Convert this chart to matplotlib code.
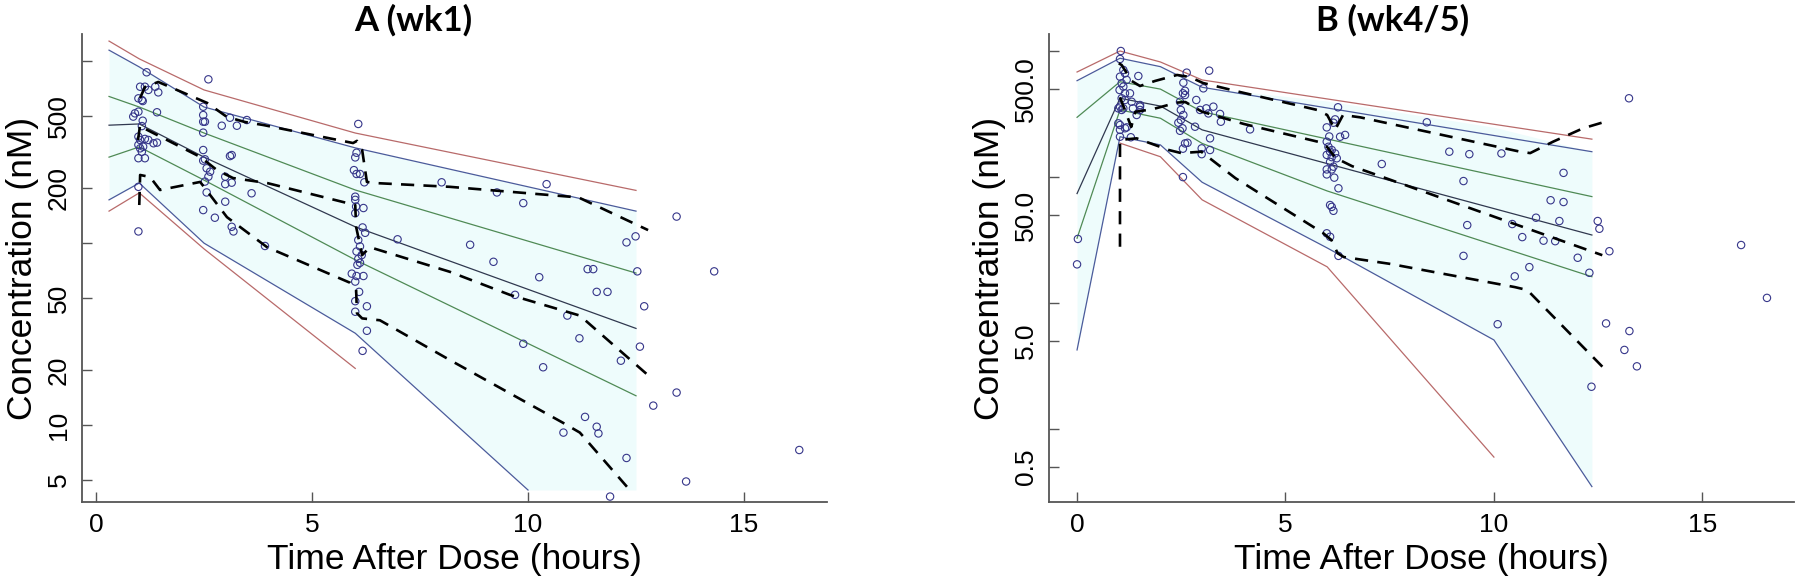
import matplotlib
matplotlib.use('Agg')
import matplotlib.pyplot as plt
import numpy as np

plt.rcParams['font.family'] = ['Liberation Sans', 'DejaVu Sans']

# ── 1. data: panel A (wk1) ───────────────────────────────────────────────────
a_bins = [0.3, 1.0, 2.5, 6.0, 12.5]
a_red_hi = [1290, 1030, 695, 403, 195]
a_blue_hi = [1150, 930, 560, 334, 150]
a_green_hi = [640, 560, 403, 196, 68.5]
a_median = [445, 452, 297, 123, 34]
a_green_lo = [297, 338, 222, 81, 14.5]
a_blue_lo_t = [0.3, 1.0, 2.5, 6.0, 10.0]
a_blue_lo = [173, 214, 100, 32, 4.4]
a_red_lo_t = [0.3, 1.0, 2.5, 6.0]
a_red_lo = [150, 189, 93, 20.5]
a_shade_t = [0.3, 1.0, 2.5, 6.0, 10.0, 12.5]
a_shade_hi = [1150, 930, 560, 334, 204, 150]
a_shade_lo = [173, 214, 100, 32, 4.4, 4.4]

a_p95_t = [1.02, 1.13, 1.44, 2.57, 3.03, 3.45, 3.87, 5.95, 6.04, 6.16, 6.27, 6.46, 8.19, 10.97, 11.2, 12.78]
a_p95 = [628, 721, 769, 590, 494, 463, 446, 355, 365, 325, 217, 214, 204, 180, 177, 118]
a_p50_t = [0.97, 1.02, 1.09, 2.41, 2.8, 3.17, 3.96, 6.0, 6.02, 6.16, 6.34, 8.19, 9.58, 11.2, 12.78]
a_p50 = [369, 446, 430, 298, 252, 228, 214, 162, 123, 86, 95, 69.6, 52, 40, 18.8]
a_p05_t = [1.0, 1.02, 1.25, 1.48, 2.41, 3.03, 3.96, 5.88, 6.02, 6.04, 6.16, 6.57, 8.19, 10.81, 11.2, 12.43]
a_p05 = [162, 237, 231, 196, 217, 139, 95, 60.6, 55.6, 41.2, 38.6, 37.7, 22.8, 10.3, 9.1, 4.2]

a_obs_t = [1.17, 2.60, 1.02, 1.13, 1.37, 1.21, 1.44, 0.98, 1.08, 1.06, 1.41, 0.90, 0.98, 0.86, 1.08, 1.06,
           2.48, 2.48, 2.52, 2.48, 2.48, 2.91, 3.10, 3.26, 3.49, 0.98, 1.02, 1.13, 1.21, 1.33, 1.41, 0.98,
           1.02, 1.09, 1.06, 0.98, 1.13, 2.48, 2.52, 2.48, 2.56, 2.64, 2.60, 2.52, 3.10, 3.14, 2.99, 3.14,
           2.99, 3.60, 0.98, 2.56, 2.99, 2.48, 2.75, 3.14, 3.18, 0.98, 3.91,
           6.07, 6.03, 6.0, 5.97, 6.03, 6.11, 6.21, 8.0, 6.0, 6.0, 6.02, 6.19, 6.0, 6.17, 6.23, 6.98, 8.66,
           6.07, 6.11, 6.03, 6.15, 6.07, 6.11, 6.05, 5.92, 6.03, 6.19, 6.0, 6.09, 6.0, 6.27, 6.0, 6.27, 6.17,
           10.43, 9.28, 9.89, 13.44, 12.49, 12.28, 9.2, 11.38, 11.51, 12.53, 14.31, 10.26, 11.59, 11.84, 9.7,
           12.69, 10.91, 9.89, 11.19, 12.59, 12.15, 10.35, 13.44, 12.9, 11.32, 11.59, 11.63, 10.82, 12.28,
           16.28, 13.66, 11.9]
a_obs_c = [869, 795, 724, 724, 724, 695, 674, 625, 604, 612, 524, 517, 528, 496, 471, 440,
           562, 506, 465, 465, 405, 442, 489, 442, 475, 385, 369, 374, 369, 354, 357, 347,
           332, 339, 318, 293, 293, 325, 289, 284, 258, 247, 232, 218, 301, 305, 232, 215,
           211, 188, 204, 190, 169, 152, 138, 123, 116, 116, 96.5,
           452, 314, 296, 252, 240, 240, 216, 216, 180, 173, 159, 156, 146, 122, 114, 105, 98,
           104, 96, 90, 86, 82, 78, 76, 68, 66, 66, 61.5, 54, 48, 45, 42, 33, 25.6,
           211, 190, 166, 140, 109, 101, 79, 72, 72, 70, 70, 65, 54, 54, 52,
           45, 40, 28, 30, 27, 22.6, 20.8, 15.1, 12.8, 11.1, 9.8, 9.0, 9.1, 6.6,
           7.3, 4.9, 4.05]

# ── 2. data: panel B (wk4/5) ─────────────────────────────────────────────────
b_bins = [0.0, 1.03, 2.0, 3.0, 12.35]
b_red_hi = [682, 1001, 819, 590, 200]
b_blue_hi = [582, 877, 752, 516, 159]
b_green_hi = [298, 571, 499, 330, 70]
b_median = [74, 422, 366, 237, 34.7]
b_green_lo_t = [0.0, 1.03, 2.0, 3.0, 6.0, 12.35]
b_green_lo = [32.7, 341, 293, 185, 77.6, 16.2]
b_blue_lo_t = [0.0, 1.03, 2.0, 3.0, 6.0, 10.0, 12.35]
b_blue_lo = [4.25, 209, 180, 91, 27.4, 5.1, 0.35]
b_red_lo_t = [1.03, 2.0, 3.0, 6.0, 10.0]
b_red_lo = [186, 145, 66, 19.4, 0.6]

b_p95_t = [1.0, 1.07, 1.31, 1.51, 1.87, 2.4, 2.71, 3.02, 3.91, 5.76, 6.0, 6.19, 6.38, 6.79, 10.63, 10.87, 11.42, 12.14, 12.67]
b_p95 = [800, 775, 579, 528, 579, 646, 622, 558, 473, 341, 311, 237, 311, 298, 159, 155, 191, 244, 275]
b_p50_t = [1.03, 1.3, 1.4, 1.8, 2.4, 2.6, 3.0, 4.0, 5.8, 6.0, 6.2, 6.6, 12.6]
b_p50 = [430, 250, 330, 345, 390, 394, 330, 264, 190, 173, 142, 122, 24]
b_p05_t = [1.03, 1.03, 1.43, 2.2, 2.5, 2.98, 3.8, 5.9, 6.1, 6.25, 6.4, 7.5, 10.5, 10.8, 12.7]
b_p05 = [28, 197, 203, 164, 155, 159, 98, 36, 31.7, 24.9, 23.2, 20.5, 13.4, 12.7, 2.9]

b_obs_t = [0.02, 0.0,
           1.05, 1.03, 1.11, 1.15, 1.03, 1.19, 1.07, 1.11, 1.02, 1.15, 1.27, 1.07, 1.15, 1.03, 1.11, 0.99,
           1.07, 1.31, 1.51, 1.51, 0.99, 1.19, 1.03, 1.29, 1.47, 1.34, 1.51, 1.43, 1.03, 1.15, 1.03,
           2.63, 3.17, 3.03, 2.55, 2.59, 2.54, 2.86, 3.10, 3.15, 3.43, 3.45, 2.49, 2.55, 2.49, 2.43, 2.53,
           2.47, 2.83, 3.19, 2.65, 2.59, 2.54, 2.99, 3.19, 2.99, 4.15, 2.54, 2.59, 2.47, 2.95, 3.27,
           6.26, 6.19, 6.15, 5.99, 6.43, 6.31, 6.05, 5.99, 6.03, 6.07, 6.11, 6.19, 5.99, 6.11, 6.23, 6.07,
           6.15, 5.99, 6.11, 5.99, 6.17, 6.27, 6.07, 6.11, 6.15, 5.99, 6.07, 6.27, 7.31,
           8.39, 8.93, 9.41, 10.18, 11.67, 9.27, 11.36, 11.67, 11.01, 11.57, 12.49, 12.53, 9.36, 10.44,
           10.68, 11.19, 11.47, 12.77, 9.27, 12.01, 10.85, 12.29, 10.5, 15.93, 16.55, 13.24, 10.09, 12.69,
           13.25, 13.13, 13.43, 12.34]
b_obs_c = [32.3, 20.3,
           1001, 865, 708, 666, 626, 590, 555, 522, 491, 462, 462, 422, 409, 362, 351, 351,
           341, 396, 373, 341, 267, 248, 209, 207, 634, 351, 362, 311, 259, 244, 237,
           674, 699, 506, 561, 484, 462, 409, 351, 320, 317, 275, 341, 311, 284, 270, 244,
           233, 251, 203, 187, 185, 168, 169, 164, 152, 239, 100, 448, 396, 341, 362,
           358, 287, 270, 248, 216, 209, 210, 191, 174, 159, 164, 154, 150, 144, 141, 132,
           121, 115, 115, 105, 99, 81.5, 60, 58, 54, 35.8, 33.6, 23.7, 127,
           272, 159, 152, 154, 108, 93, 65.5, 63.4, 47.6, 44.8, 44.8, 38.9, 41.6, 42.4,
           33.4, 31.3, 31, 25.8, 23.7, 22.9, 19.3, 17.4, 16.3, 28.9, 11, 422, 6.8, 6.9,
           6.0, 4.25, 3.15, 2.17]

RED = '#b86a6a'
BLUE = '#4b5b9b'
GREEN = '#4f8a55'
MED = '#30384f'
SHADE = '#eefcfc'
PT = '#36368a'
DASH = (0, (5, 3.5))

# ── 3. figure ────────────────────────────────────────────────────────────────
fig = plt.figure(figsize=(18, 5.83), dpi=100)
ax_a = fig.add_axes([0.0456, 0.1389, 0.4138, 0.8028])
ax_b = fig.add_axes([0.5828, 0.1389, 0.4139, 0.8028])


def draw_panel(ax, shade_t, shade_hi, shade_lo, bins, red_hi, blue_hi, green_hi, med,
               green_lo_t, green_lo, blue_lo_t, blue_lo, red_lo_t, red_lo,
               p95_t, p95, p50_t, p50, p05_t, p05, obs_t, obs_c):
    ax.fill_between(shade_t, shade_lo, shade_hi, color=SHADE, lw=0, zorder=1)
    ax.plot(bins, red_hi, color=RED, lw=0.9, zorder=2)
    ax.plot(bins, blue_hi, color=BLUE, lw=0.9, zorder=2)
    ax.plot(bins, green_hi, color=GREEN, lw=0.9, zorder=2)
    ax.plot(bins, med, color=MED, lw=0.9, zorder=2)
    ax.plot(green_lo_t, green_lo, color=GREEN, lw=0.9, zorder=2)
    ax.plot(blue_lo_t, blue_lo, color=BLUE, lw=0.9, zorder=2)
    ax.plot(red_lo_t, red_lo, color=RED, lw=0.9, zorder=2)
    ax.scatter(obs_t, obs_c, s=28, facecolors='none', edgecolors=PT, linewidths=0.8, zorder=3)
    for t, c in [(p95_t, p95), (p50_t, p50), (p05_t, p05)]:
        ax.plot(t, c, color='black', lw=1.9, linestyle=DASH, zorder=4)

    ax.set_yscale('log')
    ax.minorticks_off()
    for side in ['top', 'right']:
        ax.spines[side].set_visible(False)
    for side in ['left', 'bottom']:
        ax.spines[side].set_color('#555555')
        ax.spines[side].set_linewidth(1.3)
    ax.tick_params(direction='in', length=7, width=1, color='#555555', labelsize=19, pad=8)
    ax.set_xticks([0, 5, 10, 15])
    ax.set_xlabel('Time After Dose (hours)', fontsize=25.5, labelpad=4)
    ax.set_ylabel('Concentration (nM)', fontsize=25.5, labelpad=6)


# panel A
draw_panel(ax_a, a_shade_t, a_shade_hi, a_shade_lo, a_bins, a_red_hi, a_blue_hi, a_green_hi, a_median,
           a_bins, a_green_lo, a_blue_lo_t, a_blue_lo, a_red_lo_t, a_red_lo,
           a_p95_t, a_p95, a_p50_t, a_p50, a_p05_t, a_p05, a_obs_t, a_obs_c)
ax_a.set_xlim(-0.324, 16.92)
ax_a.set_ylim(3.78, 1411)
ax_a.set_yticks([5, 10, 20, 50, 100, 200, 500, 1000])
ax_a.set_yticklabels(['5', '10', '20', '50', '', '200', '500', ''], rotation=90, va='center')

# panel B
draw_panel(ax_b, b_blue_lo_t, np.interp(b_blue_lo_t, b_bins, b_blue_hi), b_blue_lo,
           b_bins, b_red_hi, b_blue_hi, b_green_hi, b_median,
           b_green_lo_t, b_green_lo, b_blue_lo_t, b_blue_lo, b_red_lo_t, b_red_lo,
           b_p95_t, b_p95, b_p50_t, b_p50, b_p05_t, b_p05, b_obs_t, b_obs_c)
ax_b.set_xlim(-0.672, 17.2)
ax_b.set_ylim(0.264, 1366)
ax_b.set_yticks([0.5, 1, 5, 10, 50, 100, 500, 1000])
ax_b.set_yticklabels(['0.5', '', '5.0', '', '50.0', '', '500.0', ''], rotation=90, va='center')

fig.text(413 / 1800, 1 - 20 / 583, 'A (wk1)', fontsize=25, fontweight='bold',
         family=['Lato', 'DejaVu Sans'], ha='center', va='center')
fig.text(1393 / 1800, 1 - 20 / 583, 'B (wk4/5)', fontsize=25, fontweight='bold',
         family=['Lato', 'DejaVu Sans'], ha='center', va='center')

fig.savefig('out.png', dpi=100)
